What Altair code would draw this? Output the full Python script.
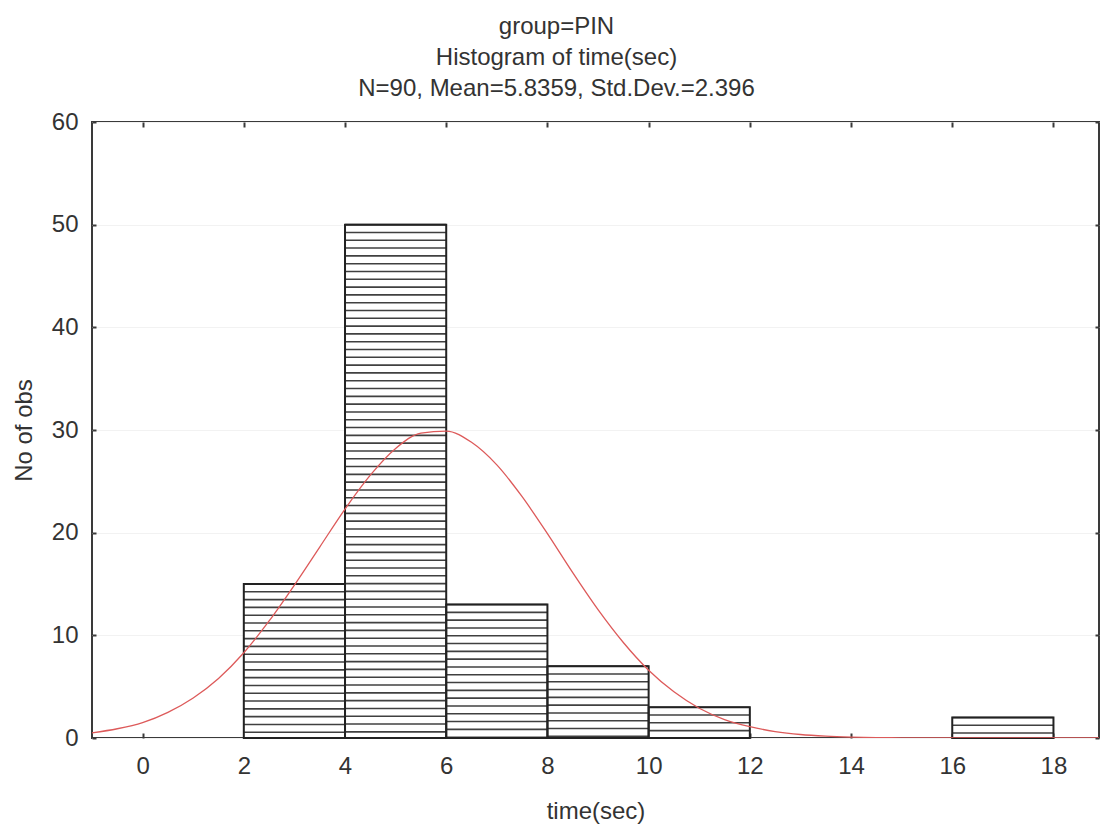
import altair as alt
import pandas as pd

# Histogram bins
bin_start = [2, 4, 6, 8, 10, 12, 14, 16]
bin_end = [4, 6, 8, 10, 12, 14, 16, 18]
counts = [15, 50, 13, 7, 3, 0, 0, 2]

# Fitted normal curve
curve_x = [-1, -0.5, 0, 0.5, 1, 1.5, 2, 2.5, 3, 3.5, 4, 4.5, 5, 5.5, 6, 6.5, 7, 7.5,
           8, 8.5, 9, 9.5, 10, 10.5, 11, 11.5, 12, 12.5, 13, 13.5, 14, 14.5, 15, 16, 17, 18, 18.9]
curve_y = [0.5, 0.9, 1.5, 2.5, 3.9, 5.8, 8.3, 11.4, 14.9, 18.6, 22.3, 25.6, 28.2, 29.7, 29.9,
           28.8, 26.6, 23.5, 19.9, 16.1, 12.5, 9.3, 6.6, 4.5, 2.9, 1.8, 1.1, 0.63, 0.34, 0.18,
           0.09, 0.04, 0.02, 0.0, 0.0, 0.0, 0.0]

x_ticks = [0, 2, 4, 6, 8, 10, 12, 14, 16, 18]
y_ticks = [0, 10, 20, 30, 40, 50, 60]

title_lines = ["group=PIN", "Histogram of time(sec)", "N=90, Mean=5.8359, Std.Dev.=2.396"]

FONT = "Liberation Sans"
TXT = "#333333"
FRAME = "#3a3a3a"

bins_df = pd.DataFrame({"start": bin_start, "end": bin_end, "count": counts})
curve_df = pd.DataFrame({"x": curve_x, "y": curve_y})

xscale = alt.Scale(domain=[-1, 18.9], nice=False, zero=False)
yscale = alt.Scale(domain=[0, 60], nice=False)

bottom_axis = alt.Axis(orient="bottom", values=x_ticks, offset=-5, tickSize=5, tickWidth=2,
                       tickColor=FRAME, domain=False, grid=False, labelFontSize=24,
                       labelFont=FONT, labelColor=TXT, labelPadding=16, titleFontSize=24,
                       titleFont=FONT, titleColor=TXT, titleFontWeight="normal", titlePadding=21)
left_axis = alt.Axis(orient="left", values=y_ticks, offset=-4, tickSize=4, tickWidth=2,
                     tickColor=FRAME, domain=False, grid=True, gridColor="#f2f2f2",
                     labelFontSize=24, labelFont=FONT, labelColor=TXT, labelPadding=14,
                     titleFontSize=24, titleFont=FONT, titleColor=TXT,
                     titleFontWeight="normal", titlePadding=15)
top_axis = alt.Axis(orient="top", values=x_ticks, offset=-5, tickSize=5, tickWidth=2,
                    tickColor=FRAME, domain=False, grid=False, labels=False, title=None)
right_axis = alt.Axis(orient="right", values=y_ticks, offset=-4, tickSize=4, tickWidth=2,
                      tickColor=FRAME, domain=False, grid=False, labels=False, title=None)

bars_fill = alt.Chart(bins_df).transform_filter("datum.count > 0").mark_rect(
    fill="white").encode(
    x=alt.X("start:Q", scale=xscale, axis=bottom_axis, title="time(sec)"),
    x2="end:Q",
    y=alt.Y("count:Q", scale=yscale, axis=left_axis, title="No of obs"),
    y2=alt.datum(0),
)

hatch = alt.Chart(bins_df).transform_filter("datum.count > 0").transform_calculate(
    h="sequence(datum.count, 0, -0.76)"
).transform_flatten(["h"]).mark_rule(stroke="#404040", strokeWidth=1.6).encode(
    x=alt.X("start:Q", scale=xscale, axis=None),
    x2="end:Q",
    y=alt.Y("h:Q", scale=yscale, axis=None),
)

bars_outline = alt.Chart(bins_df).transform_filter("datum.count > 0").mark_rect(
    fillOpacity=0, stroke="#222222", strokeWidth=2).encode(
    x=alt.X("start:Q", scale=xscale, axis=None),
    x2="end:Q",
    y=alt.Y("count:Q", scale=yscale, axis=None),
    y2=alt.datum(0),
)

curve = alt.Chart(curve_df).mark_line(color="#dd5a5a", strokeWidth=1.3, clip=True,
                                      interpolate="monotone").encode(
    x=alt.X("x:Q", scale=xscale, axis=top_axis),
    y=alt.Y("y:Q", scale=yscale, axis=right_axis),
)

chart = alt.layer(bars_fill, hatch, bars_outline, curve).resolve_axis(
    x="independent", y="independent"
).properties(
    width=1007,
    height=616,
    padding={"left": 92, "top": 122, "right": 2, "bottom": 86},
    autosize="none",
    background="white",
    title=alt.Title(text=title_lines, fontSize=24, font=FONT, fontWeight="normal",
                    color=TXT, anchor="middle", frame="group", dx=-39, offset=9,
                    lineHeight=31),
).configure_view(stroke=FRAME, strokeWidth=2)

chart.save("out.html", embed_options={"renderer": "svg", "actions": False})
